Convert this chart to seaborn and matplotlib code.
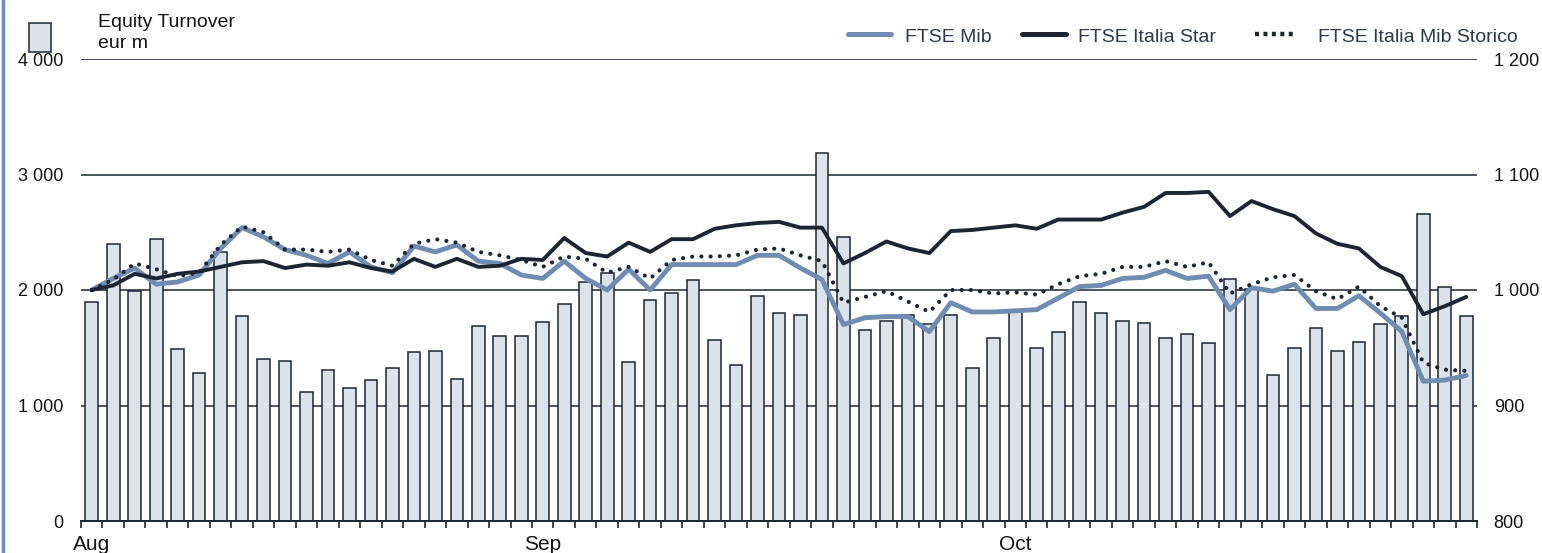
import numpy as np
import pandas as pd
import matplotlib
matplotlib.use("Agg")
import matplotlib.pyplot as plt
from matplotlib.lines import Line2D
from matplotlib.patches import Rectangle
import seaborn as sns

# ---------------- data ----------------
days = list(range(65))
month_labels = ["Aug", "Sep", "Oct"]
month_pos = [0, 21, 43]

turnover = [1900, 2400, 1990, 2445, 1490, 1280, 2332, 1778, 1400, 1388,
            1114, 1305, 1154, 1218, 1327, 1466, 1475, 1229, 1688, 1602,
            1602, 1726, 1876, 2072, 2144, 1377, 1911, 1971, 2084, 1564,
            1348, 1948, 1801, 1786, 3190, 2456, 1651, 1734, 1786, 1703,
            1786, 1327, 1587, 1807, 1500, 1636, 1899, 1801, 1734, 1711,
            1587, 1616, 1541, 2095, 2010, 1264, 1500, 1674, 1475, 1550,
            1703, 1775, 2655, 2023, 1775]

ftse_mib = [1000, 1010, 1019, 1005, 1007, 1013, 1036, 1054, 1046, 1035,
            1030, 1023, 1033, 1020, 1015, 1038, 1033, 1039, 1025, 1023,
            1013, 1010, 1025, 1010, 1000, 1018, 1000, 1022, 1022, 1022,
            1022, 1030, 1030, 1019, 1009, 970, 976, 977, 977, 964,
            989, 981, 981, 982, 983, 993, 1003, 1004, 1010, 1011,
            1017, 1010, 1012, 983, 1002, 999, 1005, 984, 984, 995,
            980, 964, 921, 922, 926]

ftse_star = [1000, 1004, 1014, 1010, 1014, 1016, 1020, 1024, 1025, 1019,
             1022, 1021, 1024, 1019, 1016, 1027, 1020, 1027, 1020, 1021,
             1027, 1026, 1045, 1032, 1029, 1041, 1033, 1044, 1044, 1053,
             1056, 1058, 1059, 1054, 1054, 1023, 1032, 1042, 1036, 1032,
             1051, 1052, 1054, 1056, 1053, 1061, 1061, 1061, 1067, 1072,
             1084, 1084, 1085, 1064, 1077, 1070, 1064, 1049, 1040, 1036,
             1020, 1012, 979, 986, 994]

ftse_storico = [1000, 1009, 1023, 1018, 1012, 1015, 1039, 1055, 1050, 1035,
                1035, 1033, 1035, 1026, 1021, 1040, 1044, 1041, 1033, 1030,
                1026, 1020, 1029, 1027, 1015, 1020, 1010, 1026, 1029, 1029,
                1030, 1035, 1036, 1030, 1025, 989, 994, 999, 990, 981,
                1000, 1000, 997, 998, 996, 1005, 1012, 1014, 1020, 1020,
                1025, 1020, 1024, 997, 1005, 1011, 1013, 999, 992, 1003,
                986, 976, 937, 931, 930]

left_ticks = [0, 1000, 2000, 3000, 4000]
right_ticks = [800, 900, 1000, 1100, 1200]

df = pd.DataFrame({"day": days, "turnover": turnover, "mib": ftse_mib,
                   "star": ftse_star, "storico": ftse_storico})

# ---------------- style ----------------
sns.set_theme(style="white")
plt.rcParams["font.family"] = ["Liberation Sans", "DejaVu Sans"]

DARK = "#1c2534"
BLUE = "#6f8db3"
BARFILL = "#dbe2ea"
GRID = "#2d3543"
TXT = "#141414"
LEGTXT = "#2c3a50"

W, H = 1542, 553
fig = plt.figure(figsize=(W / 100, H / 100), dpi=100)
x0, x1, y0, y1 = 81, 1477, 59, 521
ax = fig.add_axes([x0 / W, 1 - y1 / H, (x1 - x0) / W, (y1 - y0) / H])

sns.barplot(data=df, x="day", y="turnover", ax=ax, color=BARFILL,
            saturation=1, width=0.59, edgecolor=DARK, linewidth=1.1,
            errorbar=None, zorder=2)

ax.set_ylim(0, 4000)
ax.set_xlim(-0.5, 64.5)
ax.set_yticks(left_ticks)
ax.set_yticklabels([f"{v:,}".replace(",", " ") for v in left_ticks])
ax.yaxis.grid(True, color=GRID, linewidth=1.2)
ax.xaxis.grid(False)
ax.set_axisbelow(True)
ax.set_xlabel("")
ax.set_ylabel("")

ax.set_xticks(np.arange(-0.5, 65, 1))
ax.set_xticklabels([])
ax.set_xticks(month_pos, minor=True)
ax.set_xticklabels(month_labels, minor=True)
ax.tick_params(axis="x", which="major", direction="out", length=5,
               width=1.2, color=DARK, bottom=True)
ax.tick_params(axis="x", which="minor", length=0, pad=10,
               labelsize=15, labelcolor=TXT)
ax.tick_params(axis="y", length=0, pad=13, labelsize=13, labelcolor=TXT)

for s in ["left", "right", "top"]:
    ax.spines[s].set_visible(False)
ax.spines["bottom"].set_color(DARK)
ax.spines["bottom"].set_linewidth(1.4)

# ---------------- lines (right axis) ----------------
ax2 = ax.twinx()
sns.lineplot(data=df, x="day", y="mib", ax=ax2, color=BLUE, linewidth=3.5,
             solid_joinstyle="round", solid_capstyle="round")
sns.lineplot(data=df, x="day", y="star", ax=ax2, color=DARK, linewidth=2.8,
             solid_joinstyle="round", solid_capstyle="round")
sns.lineplot(data=df, x="day", y="storico", ax=ax2, color=DARK, linewidth=3.0,
             linestyle=(0, (0.01, 2.2)), dash_capstyle="round")
ax2.set_ylim(800, 1200)
ax2.set_xlim(-0.5, 64.5)
ax2.set_yticks(right_ticks)
ax2.set_yticklabels([f"{v:,}".replace(",", " ") for v in right_ticks])
ax2.tick_params(axis="y", length=0, pad=12, labelsize=13, labelcolor=TXT)
ax2.set_ylabel("")
ax2.set_xlabel("")
ax2.grid(False)
for s in ax2.spines.values():
    s.set_visible(False)
if ax2.get_legend() is not None:
    ax2.get_legend().remove()

# ---------------- legends ----------------
def fx(px):
    return px / W

def fy(py):
    return 1 - py / H

fig.add_artist(Rectangle((fx(29), fy(52)), 22 / W, 29 / H, transform=fig.transFigure,
                         facecolor=BARFILL, edgecolor=DARK, linewidth=1.1))
fig.text(fx(98), fy(14), "Equity Turnover\neur m", ha="left", va="top",
         fontsize=14, color=TXT, linespacing=1.3)

entries = [(848, 891, 905, "FTSE Mib", dict(color=BLUE, linewidth=3.6)),
           (1022, 1066, 1078, "FTSE Italia Star", dict(color=DARK, linewidth=3.6)),
           (1255, 1297, 1318, "FTSE Italia Mib Storico",
            dict(color=DARK, linewidth=3.2, linestyle=(0, (0.9, 1.0))))]
for xa, xb, xt, label, kw in entries:
    fig.add_artist(Line2D([fx(xa), fx(xb)], [fy(34), fy(34)],
                          transform=fig.transFigure, **kw))
    fig.text(fx(xt), fy(37), label, ha="left", va="center", fontsize=14,
             color=LEGTXT)

# blue border at left edge
fig.add_artist(Line2D([fx(3), fx(3)], [0, 1], transform=fig.transFigure,
                      color=BLUE, linewidth=2.5))

fig.savefig("out.png", dpi=100)
